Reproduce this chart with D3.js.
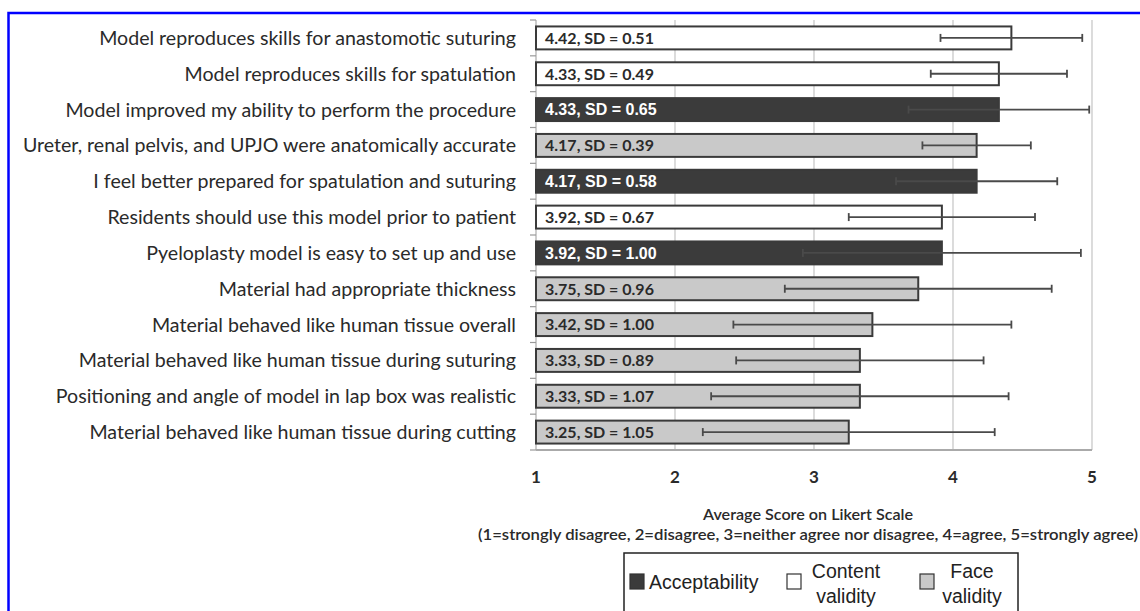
<!DOCTYPE html>
<html>
<head>
<meta charset="utf-8">
<script src="https://cdn.jsdelivr.net/npm/d3@7"></script>
<style>
  body { margin: 0; background: #fff; }
  svg { display: block; }
  .lbl { font-family: Lato, "Open Sans", sans-serif; fill: #2a2a2a; }
</style>
</head>
<body>
<div id="chart"></div>
<script>
/* data */
var categories = [
  "Model reproduces skills for anastomotic suturing",
  "Model reproduces skills for spatulation",
  "Model improved my ability to perform the procedure",
  "Ureter, renal pelvis, and UPJO were anatomically accurate",
  "I feel better prepared for spatulation and suturing",
  "Residents should use this model prior to patient",
  "Pyeloplasty model is easy to set up and use",
  "Material had appropriate thickness",
  "Material behaved like human tissue overall",
  "Material behaved like human tissue during suturing",
  "Positioning and angle of model in lap box was realistic",
  "Material behaved like human tissue during cutting"
];
var means = [4.42, 4.33, 4.33, 4.17, 4.17, 3.92, 3.92, 3.75, 3.42, 3.33, 3.33, 3.25];
var sds   = [0.51, 0.49, 0.65, 0.39, 0.58, 0.67, 1.00, 0.96, 1.00, 0.89, 1.07, 1.05];
var groups = ["content", "content", "accept", "face", "accept", "content", "accept",
              "face", "face", "face", "face", "face"];
var xTicks = [1, 2, 3, 4, 5];
var legendKeys = ["accept", "content", "face"];
var legendNames = [["Acceptability"], ["Content", "validity"], ["Face", "validity"]];

/* layout */
var W = 1140, H = 611;
var plotL = 536, plotR = 1092, plotT = 20, plotB = 450;

var svg = d3.select("#chart").append("svg")
  .attr("width", W).attr("height", H);

svg.append("rect").attr("width", W).attr("height", H).attr("fill", "#fff");

var x = d3.scaleLinear().domain([1, 5]).range([plotL, plotR]);
var y = d3.scaleBand().domain(categories).range([plotT, plotB]).paddingInner(0.36).paddingOuter(0.18);
var fill = d3.scaleOrdinal().domain(legendKeys).range(["#3b3b3b", "#ffffff", "#c9c9c9"]);
var textFill = d3.scaleOrdinal().domain(legendKeys).range(["#ffffff", "#2a2a2a", "#2a2a2a"]);

var rows = categories.map(function(c, i) {
  return { cat: c, mean: means[i], sd: sds[i], group: groups[i] };
});

// gridlines
svg.append("g").selectAll("line")
  .data(xTicks.slice(1))
  .enter().append("line")
  .attr("x1", function(d) { return x(d); })
  .attr("x2", function(d) { return x(d); })
  .attr("y1", plotT).attr("y2", plotB)
  .attr("stroke", "#c4c4c4").attr("stroke-width", 1.2);

// left axis with band ticks
var bandEdges = d3.range(categories.length + 1).map(function(i) { return plotT + i * (plotB - plotT) / categories.length; });
svg.append("line").attr("x1", plotL).attr("x2", plotL).attr("y1", plotT).attr("y2", plotB)
  .attr("stroke", "#aaa").attr("stroke-width", 1.2);
svg.append("g").selectAll("line").data(bandEdges).enter().append("line")
  .attr("x1", plotL - 6).attr("x2", plotL)
  .attr("y1", function(d) { return d; }).attr("y2", function(d) { return d; })
  .attr("stroke", "#999").attr("stroke-width", 1.2);

// bottom axis
svg.append("line").attr("x1", plotL).attr("x2", plotR).attr("y1", plotB).attr("y2", plotB)
  .attr("stroke", "#aaa").attr("stroke-width", 2);
svg.append("g").selectAll("text").data(xTicks).enter().append("text")
  .attr("class", "lbl")
  .attr("x", function(d) { return x(d); })
  .attr("y", plotB + 33)
  .attr("text-anchor", "middle")
  .style("font-size", "17px").style("font-weight", 700)
  .text(function(d) { return d; });

// bars
var bar = svg.append("g").selectAll("g").data(rows).enter().append("g");

bar.append("rect")
  .attr("x", x(1))
  .attr("y", function(d) { return y(d.cat); })
  .attr("width", function(d) { return x(d.mean) - x(1); })
  .attr("height", y.bandwidth())
  .attr("fill", function(d) { return fill(d.group); })
  .attr("stroke", "#3a3a3a").attr("stroke-width", 2);

bar.append("text")
  .attr("x", x(1) + 9)
  .attr("y", function(d) { return y(d.cat) + y.bandwidth() / 2; })
  .attr("dy", "0.36em")
  .style("font-family", function(d) { return d.group == "accept" ? "'Liberation Sans', Arial, sans-serif" : "Lato, sans-serif"; })
  .style("font-size", "16px").style("font-weight", 700)
  .attr("fill", function(d) { return textFill(d.group); })
  .text(function(d) { return d.mean.toFixed(2) + ", SD = " + d.sd.toFixed(2); });

// error bars
var err = svg.append("g").selectAll("g").data(rows).enter().append("g")
  .attr("stroke", "#4a4a4a").attr("stroke-width", 1.8);
err.append("line")
  .attr("x1", function(d) { return x(d.mean - d.sd); })
  .attr("x2", function(d) { return x(Math.min(5, d.mean + d.sd)); })
  .attr("y1", function(d) { return y(d.cat) + y.bandwidth() / 2; })
  .attr("y2", function(d) { return y(d.cat) + y.bandwidth() / 2; });
[-1, 1].forEach(function(s) {
  err.append("line")
    .attr("x1", function(d) { return x(Math.min(5, d.mean + s * d.sd)); })
    .attr("x2", function(d) { return x(Math.min(5, d.mean + s * d.sd)); })
    .attr("y1", function(d) { return y(d.cat) + y.bandwidth() / 2 - 4; })
    .attr("y2", function(d) { return y(d.cat) + y.bandwidth() / 2 + 4; });
});

// category labels
svg.append("g").selectAll("text").data(categories).enter().append("text")
  .attr("class", "lbl")
  .attr("x", 516)
  .attr("y", function(d) { return y(d) + y.bandwidth() / 2; })
  .attr("dy", "0.36em")
  .attr("text-anchor", "end")
  .style("font-size", "19.6px")
  .text(function(d) { return d; });

// axis title
var mid = 808;
svg.append("text").attr("class", "lbl")
  .attr("x", mid).attr("y", 520).attr("text-anchor", "middle")
  .style("font-size", "15px").style("font-weight", 600)
  .attr("textLength", 210).attr("lengthAdjust", "spacingAndGlyphs")
  .text("Average Score on Likert Scale");
svg.append("text").attr("class", "lbl")
  .attr("x", mid).attr("y", 540).attr("text-anchor", "middle")
  .style("font-size", "15.5px").style("font-weight", 600)
  .attr("textLength", 660).attr("lengthAdjust", "spacingAndGlyphs")
  .text("(1=strongly disagree, 2=disagree, 3=neither agree nor disagree, 4=agree, 5=strongly agree)");

// legend
var lg = svg.append("g");
lg.append("rect").attr("x", 624).attr("y", 553).attr("width", 394).attr("height", 80)
  .attr("fill", "#fff").attr("stroke", "#222").attr("stroke-width", 1.5);
var lx = [630, 787, 920];
var item = lg.selectAll("g.item").data(legendKeys).enter().append("g")
  .attr("transform", function(d, i) { return "translate(" + lx[i] + ",574)"; });
item.append("rect").attr("width", 14).attr("height", 15)
  .attr("fill", function(d) { return fill(d); })
  .attr("stroke", "#333").attr("stroke-width", 1.2);
item.each(function(d, i) {
  var t = d3.select(this).append("text")
    .style("font-family", "'Liberation Sans', Arial, sans-serif")
    .style("font-size", "19.5px").attr("fill", "#222");
  var names = legendNames[i];
  if (names.length == 1) {
    t.attr("x", 19).attr("y", 15).text(names[0]);
  } else {
    t.attr("text-anchor", "middle");
    names.forEach(function(n, j) {
      t.append("tspan").attr("x", i == 1 ? 59 : 52).attr("y", 4 + j * 25).text(n);
    });
  }
});

// blue frame
svg.append("rect").attr("x", 8.5).attr("y", 13).attr("width", W + 20).attr("height", H + 20)
  .attr("fill", "none").attr("stroke", "#0000ff").attr("stroke-width", 2.5);
</script>
</body>
</html>
